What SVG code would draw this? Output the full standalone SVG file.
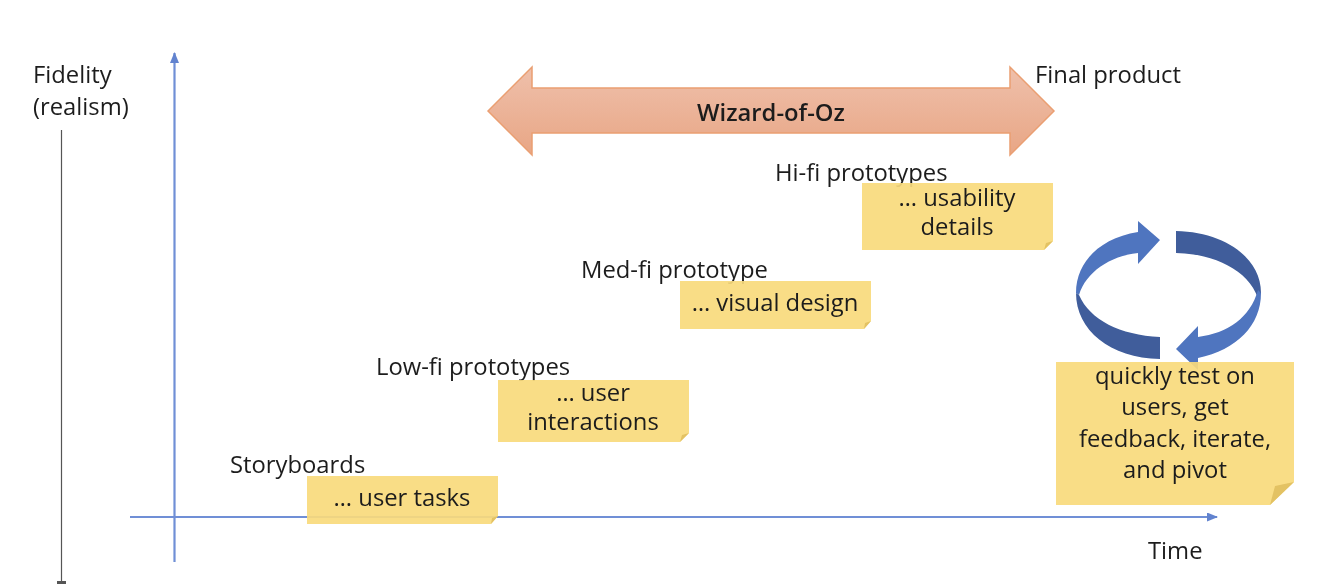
<svg xmlns="http://www.w3.org/2000/svg" width="1324" height="584" viewBox="0 0 1324 584">
<style>
text{font-family:"Open Sans","Noto Sans","Liberation Sans",sans-serif;font-size:23.800px;fill:#1c1c1c}
.c{text-anchor:middle}
.note{fill:#f8da7c;fill-opacity:.92}
.fold{fill:#e3c263}
.axis{fill:none;stroke:#6f8fd6;stroke-width:2.200}
.light{fill:#4f74bf}
.dark{fill:#3f5d9b}
</style>
<defs>
<linearGradient id="wiz" x1="0" y1="0" x2="0" y2="1"><stop offset="0" stop-color="#efc0ab"/><stop offset="1" stop-color="#e8a685"/></linearGradient>
<marker id="blue" markerWidth="12" markerHeight="10" refX="10" refY="4.500" orient="auto" markerUnits="userSpaceOnUse"><path d="M0 0L11 4.500L0 9Z" fill="#6283cf"/></marker>
<filter id="soft" filterUnits="userSpaceOnUse" x="0" y="0" width="1324" height="584"><feGaussianBlur stdDeviation="0.450"/></filter>
</defs>
<rect width="1324" height="584" fill="#fff"/>
<g filter="url(#soft)">
<g id="connectors">
<path class="axis" d="M174.500 562V53" marker-end="url(#blue)"/>
<path class="axis" d="M130 517H1217" marker-end="url(#blue)"/>
<path d="M61.500 130V582" fill="none" stroke="#555" stroke-width="1.200"/>
<path d="M57 581H66V584H57Z" fill="#555"/>
</g>
<g id="fidelity-label"><text x="33" y="83">Fidelity</text><text x="33" y="115">(realism)</text></g>
<g id="final-product"><text x="1035" y="83">Final product</text></g>
<g id="time-label"><text x="1148" y="559">Time</text></g>
<g id="wizard-of-oz">
<path d="M488 111L532 67V88H1010V67L1054 111L1010 155V133H532V155Z" fill="url(#wiz)" stroke="#ea9f72" stroke-width="1.500"/>
<text class="c" x="771" y="121" style="font-weight:600">Wizard-of-Oz</text>
</g>
<g id="storyboards">
<text x="230" y="473">Storyboards</text>
<path class="note" d="M307 476H498V516L491 524H307Z"/><path class="fold" d="M491 524L498 516L492 518Z"/>
<text class="c" x="402" y="506">… user tasks</text>
</g>
<g id="low-fi">
<text x="376" y="375">Low-fi prototypes</text>
<path class="note" d="M498 380H689V433L680 442H498Z"/><path class="fold" d="M680 442L689 433L682 435Z"/>
<text class="c" x="593" y="401">… user</text><text class="c" x="593" y="430">interactions</text>
</g>
<g id="med-fi">
<text x="581" y="278">Med-fi prototype</text>
<path class="note" d="M680 281H871V321L864 329H680Z"/><path class="fold" d="M864 329L871 321L865 323Z"/>
<text class="c" x="775" y="311">… visual design</text>
</g>
<g id="hi-fi">
<text x="775" y="181">Hi-fi prototypes</text>
<path class="note" d="M862 183H1053V241L1044 250H862Z"/><path class="fold" d="M1044 250L1053 241L1046 243Z"/>
<text class="c" x="957" y="206">… usability</text><text class="c" x="957" y="235">details</text>
</g>
<g id="cycle">
<path class="dark" d="M1176 231C1225 232 1261 258 1261 293L1258 298C1248 270 1215 254 1176 253Z"/>
<path class="light" d="M1076 293C1076 262 1100 238 1138 232V221L1160 240L1138 264V253C1110 256 1086 272 1079 295Z"/>
<path class="dark" d="M1076 293L1079 295C1090 320 1120 335 1160 337V359C1110 358 1076 330 1076 293Z"/>
<path class="light" d="M1261 293C1261 325 1237 350 1198 358V370L1176 349L1198 326V337C1228 333 1250 318 1258 290Z"/>
</g>
<g id="iterate-note">
<path class="note" d="M1056 362H1294V482L1270 505H1056Z"/><path class="fold" d="M1270 505L1294 482L1275 486Z"/>
<text class="c" x="1175" y="384">quickly test on</text><text class="c" x="1175" y="415">users, get</text><text class="c" x="1175" y="447">feedback, iterate,</text><text class="c" x="1175" y="478">and pivot</text>
</g>
</g>
</svg>
